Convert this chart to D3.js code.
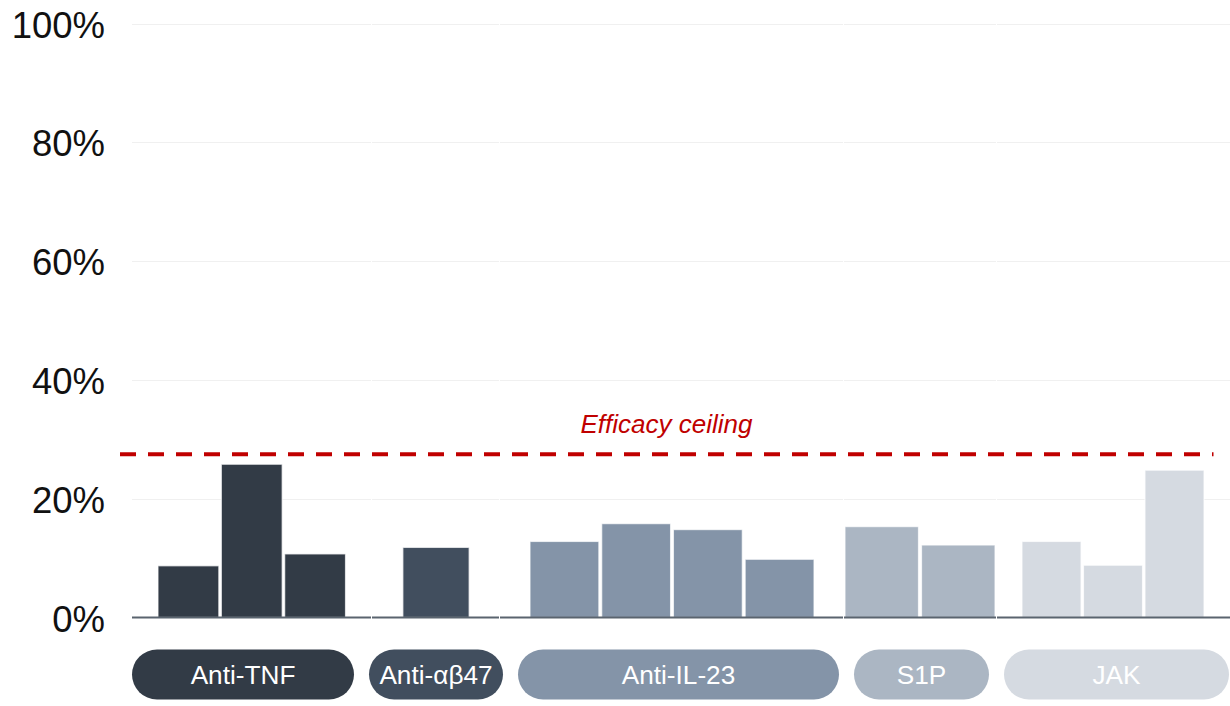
<!DOCTYPE html>
<html lang="en">
<head>
<meta charset="utf-8">
<title>Efficacy ceiling</title>
<script src="https://cdn.jsdelivr.net/npm/d3@7"></script>
<style>
  body { margin: 0; background: #fff; }
  svg { display: block; font-family: "Liberation Sans", Arial, sans-serif; }
</style>
</head>
<body>
<svg id="chart"></svg>
<script>
// data
var groups = ["Anti-TNF", "Anti-\u03b1\u03b247", "Anti-IL-23", "S1P", "JAK"];
var antiTnf = [8.7, 25.8, 10.7];
var antiA4b7 = [11.8];
var antiIl23 = [12.8, 15.8, 14.8, 9.8];
var s1p = [15.3, 12.2];
var jak = [12.8, 8.8, 24.8];
var groupValues = [antiTnf, antiA4b7, antiIl23, s1p, jak];
var yTicks = [0, 20, 40, 60, 80, 100];
var ceiling = 27.5;
var ceilingLabel = "Efficacy ceiling";

var colours = ["#323b46", "#414e5e", "#8494a8", "#abb6c3", "#d5dae1"];

var width = 1230, height = 706;

// layout: panel edges, bar extents and label pills
var panels = [[132, 371], [372, 499], [500, 843], [844, 996], [997, 1230]];
var barSpan = [[158, 345.5], [401.5, 470.5], [530, 814], [845, 995], [1022, 1204]];
var pills = [[132, 354], [369, 503], [518, 839], [854, 989], [1004, 1229]];

var svg = d3.select("#chart").attr("width", width).attr("height", height);

var y = d3.scaleLinear().domain([0, 100]).range([617.5, 23.5]);

// y labels
svg.append("g").selectAll("text")
  .data(yTicks).enter().append("text")
  .attr("x", 105)
  .attr("y", function(d) { return y(d) + 1; })
  .attr("dy", "0.36em")
  .attr("text-anchor", "end")
  .attr("font-size", 36.5)
  .attr("fill", "#111")
  .text(function(d) { return d + "%"; });

groups.forEach(function(g, i) {
  var p = panels[i];
  var panel = svg.append("g");

  // gridlines
  panel.selectAll("line.grid")
    .data(yTicks.slice(1)).enter().append("line")
    .attr("class", "grid")
    .attr("x1", p[0]).attr("x2", p[1])
    .attr("y1", function(d) { return Math.round(y(d)) + 0.5; })
    .attr("y2", function(d) { return Math.round(y(d)) + 0.5; })
    .attr("stroke", "#f0f0f0")
    .attr("stroke-width", 1);

  var x = d3.scaleBand()
    .domain(d3.range(groupValues[i].length))
    .range(barSpan[i])
    .paddingInner(0.04);

  panel.selectAll("rect")
    .data(groupValues[i]).enter().append("rect")
    .attr("x", function(d, j) { return x(j); })
    .attr("width", x.bandwidth())
    .attr("y", function(d) { return y(d); })
    .attr("height", function(d) { return y(0) - y(d); })
    .attr("fill", colours[i])
    .attr("stroke", "#fff")
    .attr("stroke-opacity", 0.7)
    .attr("stroke-width", 1.2);

  // baseline
  panel.append("line")
    .attr("x1", p[0]).attr("x2", p[1])
    .attr("y1", y(0)).attr("y2", y(0))
    .attr("stroke", "#5a646f")
    .attr("stroke-width", 2);

  // label pill
  var pl = pills[i];
  panel.append("rect")
    .attr("x", pl[0]).attr("y", 649.5)
    .attr("width", pl[1] - pl[0]).attr("height", 50)
    .attr("rx", 25).attr("ry", 25)
    .attr("fill", colours[i]);
  panel.append("text")
    .attr("x", (pl[0] + pl[1]) / 2)
    .attr("y", 675)
    .attr("dy", "0.36em")
    .attr("text-anchor", "middle")
    .attr("font-size", 26.2)
    .attr("fill", "#fff")
    .text(g);
});

// efficacy ceiling
svg.append("line")
  .attr("x1", 120).attr("x2", 1213.5)
  .attr("y1", y(ceiling)).attr("y2", y(ceiling))
  .attr("stroke", "#c00000")
  .attr("stroke-width", 4)
  .attr("stroke-dasharray", "16,12");

svg.append("text")
  .attr("x", 666.5)
  .attr("y", 433)
  .attr("text-anchor", "middle")
  .attr("font-size", 26)
  .attr("font-style", "italic")
  .attr("fill", "#c00000")
  .text(ceilingLabel);
</script>
</body>
</html>
